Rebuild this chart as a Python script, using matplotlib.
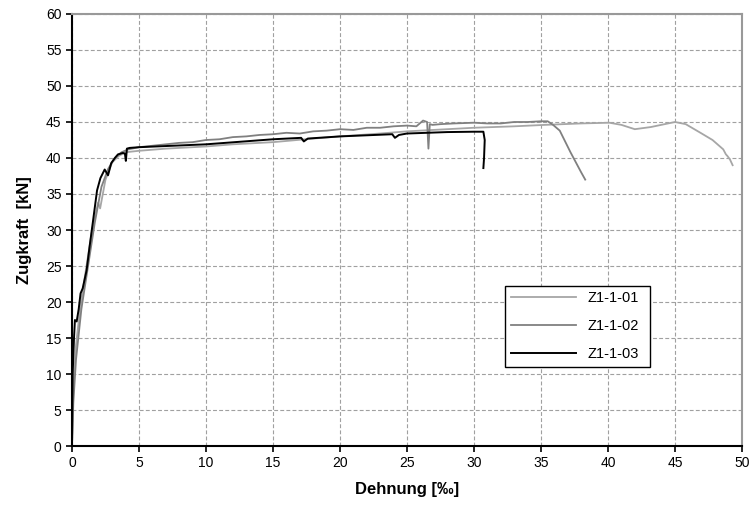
import numpy as np
import matplotlib.pyplot as plt

plt.rcParams['font.family'] = ['Liberation Sans', 'DejaVu Sans']

# Z1-1-01 (hellgrau)
x1 = [0, 0.1, 0.3, 0.6, 1.0, 1.5, 1.95, 2.1, 2.5, 3.0, 3.5, 4.0, 5, 7, 10, 12, 15, 18,
      20, 23, 25, 28, 30, 33, 35.3, 38, 40.1, 41.0, 42.0, 43.2, 45.0, 45.8, 46.9, 47.8,
      48.6, 48.8, 48.9, 49.1, 49.3]
y1 = [0, 8, 14, 19, 24, 30, 33.8, 33.0, 37, 39.4, 40.3, 40.8, 41.0, 41.3, 41.6, 41.9, 42.2, 42.7,
      43.0, 43.4, 43.7, 44.0, 44.2, 44.4, 44.6, 44.8, 44.9, 44.6, 44.0, 44.3, 45.0, 44.7, 43.5, 42.5,
      41.2, 40.5, 40.3, 39.8, 39.0]

# Z1-1-02 (mittelgrau)
x2 = [0, 0.1, 0.3, 0.7, 1.2, 1.7, 2.2, 2.7, 3.2, 3.7, 4.2, 5, 6, 7, 8, 9, 10, 11, 12, 13,
      14, 15, 16, 17, 18, 19, 20, 21, 22, 23, 24, 25, 25.7, 26.2, 26.5, 26.6, 26.7, 26.9,
      27.5, 28.5, 30, 31, 32, 33, 34, 35.0, 35.5, 35.9, 36.4, 37.2, 38.0, 38.3]
y2 = [0, 6, 12, 19, 25, 31, 36, 38.5, 40, 40.8, 41.2, 41.5, 41.7, 41.9, 42.1, 42.2, 42.5, 42.6, 42.9, 43.0,
      43.2, 43.3, 43.5, 43.4, 43.7, 43.8, 44.0, 43.9, 44.2, 44.2, 44.4, 44.5, 44.4, 45.2, 45.0, 41.3, 44.7, 44.6,
      44.7, 44.8, 44.9, 44.8, 44.8, 45.0, 45.0, 45.1, 45.1, 44.6, 43.8, 40.8, 38.0, 37.0]

# Z1-1-03 (schwarz)
x3 = [0, 0.02, 0.05, 0.15, 0.22, 0.35, 0.5, 0.64, 0.8, 1.09, 1.3, 1.58, 1.87, 2.12, 2.44, 2.69,
      2.93, 3.2, 3.43, 3.8, 3.95, 4.02, 4.1, 4.3, 5, 10, 15, 17.1, 17.3, 17.6, 20, 23.9, 24.1,
      24.4, 25, 28, 30, 30.7, 30.8, 30.75, 30.7]
y3 = [0, 5, 10, 15, 17.5, 17.3, 19, 21.2, 21.9, 24.4, 27.5, 31.4, 35.5, 37.2, 38.4, 37.6,
      39.3, 40.0, 40.5, 40.7, 40.6, 39.6, 41.3, 41.4, 41.5, 41.9, 42.6, 42.8, 42.3, 42.7, 43.0, 43.3, 42.8,
      43.2, 43.4, 43.6, 43.65, 43.65, 42.5, 40.0, 38.6]

fig = plt.figure(figsize=(7.53, 5.05), dpi=100)
ax = fig.add_axes([0.0956, 0.1168, 0.8898, 0.8555])

ax.plot(x1, y1, color='#a6a6a6', lw=1.3, label='Z1-1-01')
ax.plot(x2, y2, color='#808080', lw=1.3, label='Z1-1-02')
ax.plot(x3, y3, color='black', lw=1.4, label='Z1-1-03')

ax.set_xlim(0, 50)
ax.set_ylim(0, 60)
ax.set_xticks(np.arange(0, 51, 5))
ax.set_yticks(np.arange(0, 61, 5))
ax.grid(True, color='#a0a0a0', linestyle=(0, (3.5, 2)), linewidth=0.8)
ax.set_axisbelow(True)

for s in ['left', 'bottom']:
    ax.spines[s].set_color('black')
    ax.spines[s].set_linewidth(1.5)
for s in ['top', 'right']:
    ax.spines[s].set_color('#999999')
    ax.spines[s].set_linewidth(1.5)

ax.tick_params(direction='out', length=4, width=1.2, labelsize=10)
ax.set_xlabel('Dehnung [‰]', fontsize=12, fontweight='bold', labelpad=8)
ax.set_ylabel('Zugkraft  [kN]', fontsize=12, fontweight='bold', labelpad=10)

leg = ax.legend(loc='lower left', bbox_to_anchor=(0.646, 0.183, 0.216, 0.188), mode='expand',
                fancybox=False, framealpha=1, edgecolor='black', fontsize=10.5,
                handlelength=4.5, labelspacing=0.95, borderaxespad=0)
leg.get_frame().set_linewidth(1.0)

fig.savefig('out.png', dpi=100)
